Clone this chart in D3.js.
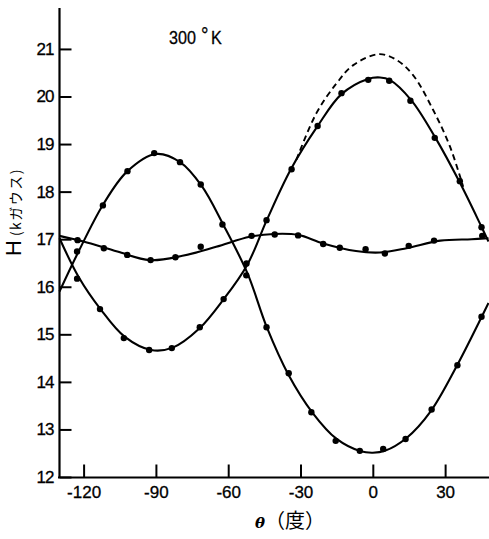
<!DOCTYPE html>
<html>
<head>
<meta charset="utf-8">
<script src="https://cdn.jsdelivr.net/npm/d3@7"></script>
<style>
  html, body { margin: 0; padding: 0; background: #fff; }
  svg { display: block; }
  .num { font-family: "Liberation Sans", Arial, sans-serif; }
</style>
</head>
<body>
<svg id="chart" width="489" height="539"></svg>
<script>
// ---- data ----
const thetaTicks = [-120, -90, -60, -30, 0, 30];
const hTicks = [12, 13, 14, 15, 16, 17, 18, 19, 20, 21];

// measured points (dots)
const pDotsTheta = [-122.7, -112, -101.8, -90.7, -80, -71.4, -62.4, -52.5, -44.1, -34.9, -25.5, -15.4, -5.4, 4.3, 13.6, 24.4, 35.1, 45.1];
const pDotsH     = [16.74, 17.71, 18.43, 18.81, 18.62, 18.15, 17.31, 16.24, 15.15, 14.18, 13.36, 12.76, 12.55, 12.59, 12.80, 13.42, 14.35, 15.37];

const qDotsTheta = [-122.7, -113.2, -103.3, -92.8, -83.4, -71.8, -61.9, -52.4, -44.1, -33.7, -22.9, -13.0, -1.9, 6.8, 15.6, 25.7, 36.1, 45.1];
const qDotsH     = [16.17, 15.53, 14.92, 14.67, 14.71, 15.15, 15.74, 16.49, 17.40, 18.47, 19.38, 20.07, 20.35, 20.33, 19.91, 19.13, 18.22, 17.25];

const rDotsTheta = [-122.5, -111.6, -101.9, -92.2, -81.9, -71.4, -50.3, -40.7, -31, -20.6, -13.7, -3, 5, 14.9, 25.4, 45.4];
const rDotsH     = [16.98, 16.81, 16.67, 16.56, 16.62, 16.84, 17.07, 17.10, 17.08, 16.90, 16.82, 16.79, 16.70, 16.86, 16.97, 17.07];

// fitted curves
const pLineTheta = [-130, -122, -112, -102, -90, -80, -71, -62, -52, -44, -35, -25, -15, -5, 0, 5, 14, 24, 35, 45, 48];
const pLineH     = [15.9, 16.75, 17.72, 18.42, 18.79, 18.62, 18.12, 17.3, 16.28, 15.15, 14.15, 13.35, 12.8, 12.54, 12.51, 12.55, 12.82, 13.38, 14.35, 15.35, 15.66];

const qLineTheta = [-130, -122, -113, -103, -92, -83, -72, -62, -52, -44, -34, -23, -13, -2, 3, 7, 16, 26, 36, 45, 48];
const qLineH     = [17.02, 16.2, 15.53, 14.95, 14.67, 14.72, 15.12, 15.73, 16.47, 17.4, 18.47, 19.37, 20.05, 20.37, 20.4, 20.35, 19.92, 19.13, 18.2, 17.27, 16.95];

const rLineTheta = [-130, -120, -106, -92.5, -79, -65, -51, -41, -31, -20.6, -7, 3, 14, 28, 41, 48];
const rLineH     = [17.07, 16.95, 16.74, 16.56, 16.65, 16.84, 17.05, 17.11, 17.09, 16.91, 16.75, 16.72, 16.81, 16.97, 17.0, 17.02];

const dashTheta = [-31.7, -23.4, -15, -8.1, 2.6, 9.8, 16.7, 25, 32, 37.5];
const dashH     = [18.67, 19.65, 20.28, 20.66, 20.89, 20.77, 20.45, 19.72, 18.95, 18.1];

const titleText = "300";
const xLabelSym = "θ";
const xLabelUnit = "（度）";

// ---- drawing ----
const svg = d3.select("#chart");
const x = d3.scaleLinear().domain([-130, 48]).range([59.5, 488.5]);
const y = d3.scaleLinear().domain([12, 21.85]).range([477, 8.5]);

const zip = (a, b) => a.map((v, i) => [v, b[i]]);
const line = d3.line().x(d => x(d[0])).y(d => y(d[1])).curve(d3.curveCatmullRom.alpha(0.5));

// axes
const yAxis = d3.axisLeft(y).tickValues(hTicks).tickSizeInner(-12).tickSizeOuter(0).tickPadding(6);
const gy = svg.append("g").attr("transform", "translate(59.5,0)").call(yAxis);
const xAxis = d3.axisBottom(x).tickValues(thetaTicks).tickSizeInner(-13).tickSizeOuter(0).tickPadding(8).tickFormat(d3.format("d"));
const gx = svg.append("g").attr("transform", "translate(0,477.5)").call(xAxis);

[gx, gy].forEach(g => {
  g.select(".domain").attr("stroke", "#000").attr("stroke-width", 2.2);
  g.selectAll(".tick line").attr("stroke", "#000").attr("stroke-width", 2);
  g.selectAll(".tick text").attr("class", "num").attr("font-size", 17).attr("fill", "#000")
    .attr("stroke", "#000").attr("stroke-width", 0.3);
});
gy.select(".domain").attr("d", "M0,8V478");
gx.select(".domain").attr("d", "M58,0H489");
gx.selectAll(".tick text").text(d => d < 0 ? "-" + Math.abs(d) : d);
gy.selectAll(".tick text").attr("letter-spacing", -1);

// curves
const curves = [
  [pLineTheta, pLineH],
  [qLineTheta, qLineH],
  [rLineTheta, rLineH]
];
curves.forEach(([t, h]) => {
  svg.append("path").datum(zip(t, h)).attr("d", line)
    .attr("fill", "none").attr("stroke", "#000").attr("stroke-width", 2.1);
});
svg.append("path").datum(zip(dashTheta, dashH)).attr("d", line)
  .attr("fill", "none").attr("stroke", "#000").attr("stroke-width", 1.9)
  .attr("stroke-dasharray", "6,4");

// dots
[[pDotsTheta, pDotsH], [qDotsTheta, qDotsH], [rDotsTheta, rDotsH]].forEach(([t, h]) => {
  svg.append("g").selectAll("circle").data(zip(t, h)).join("circle")
    .attr("cx", d => x(d[0])).attr("cy", d => y(d[1])).attr("r", 3.2).attr("fill", "#000");
});

// title
const title = svg.append("text").attr("class", "num")
  .attr("transform", "translate(169,44) scale(0.85,1)")
  .attr("font-size", 19).attr("fill", "#000").attr("stroke", "#000").attr("stroke-width", 0.3);
title.append("tspan").text(titleText);
title.append("tspan").attr("dx", 6).attr("dy", -1).attr("font-size", 22).text("°");
title.append("tspan").attr("dx", 3).attr("dy", 1).text("K");

// y label
const yl = svg.append("text").attr("transform", "translate(21,256) rotate(-90)")
  .attr("fill", "#000").attr("font-family", "'Liberation Sans', 'Noto Sans CJK JP', sans-serif");
yl.append("tspan").attr("font-size", 22).text("H");
yl.append("tspan").attr("font-size", 14).attr("dx", 4).attr("letter-spacing", 1.5)
  .attr("font-family", "'Noto Sans CJK JP', sans-serif").text("(kガウス)");

// x label
const xl = svg.append("text").attr("x", 255).attr("y", 528).attr("fill", "#000");
xl.append("tspan").attr("font-family", "'DejaVu Serif', 'Liberation Serif', serif")
  .attr("font-style", "italic").attr("font-weight", "bold").attr("font-size", 15).text(xLabelSym);
xl.append("tspan").attr("font-family", "'Noto Sans CJK JP', sans-serif").attr("font-size", 20).text(xLabelUnit);
</script>
</body>
</html>
